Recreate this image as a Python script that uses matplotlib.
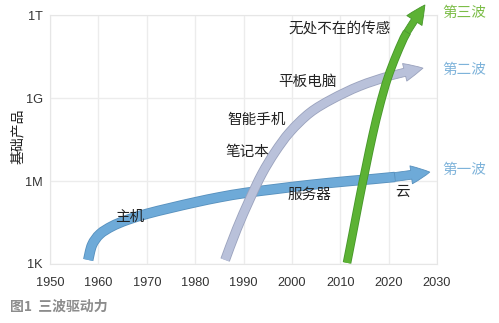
import numpy as np
import matplotlib
matplotlib.use('Agg')
import matplotlib.pyplot as plt
import matplotlib.patheffects as pe
from matplotlib.path import Path
from matplotlib.patches import PathPatch, FancyArrowPatch
from matplotlib.ticker import NullLocator

plt.rcParams['font.family'] = ['Noto Sans CJK SC', 'DejaVu Sans']

# wave 1: mainframe -> server -> cloud
wave1_year = [1957.9, 1958.7, 1960.3, 1962.8, 1965.9, 1970.0, 1974.8, 1980.0,
              1985.1, 1990.3, 1996.5, 2003.7, 2012.0, 2021.3, 2028.5]
wave1_units = [1.4e3, 4.9e3, 1.2e4, 2.3e4, 3.9e4, 6.5e4, 1.05e5, 1.7e5,
               2.6e5, 3.7e5, 5.1e5, 7.2e5, 1.0e6, 1.4e6, 2.1e6]

# wave 2: notebook -> smartphone -> tablet
wave2_year = [1986.2, 1988.6, 1991.3, 1993.8, 1996.5, 1999.6, 2003.7, 2008.3,
              2014.0, 2020.2, 2027.1]
wave2_units = [1.4e3, 1.8e4, 2.2e5, 1.8e6, 1.1e7, 5.9e7, 2.9e8, 9.1e8,
               2.7e9, 6.2e9, 1.2e10]

# wave 3: ubiquitous sensing
wave3_year = [2011.4, 2012.6, 2013.9, 2015.3, 2016.7, 2018.2, 2019.8, 2021.7,
              2023.8, 2027.5]
wave3_units = [1.1e3, 1.3e4, 2.0e5, 3.2e6, 4.6e7, 5.6e8, 5.2e9, 3.9e10,
               2.4e11, 2.3e12]

xticks = [1950, 1960, 1970, 1980, 1990, 2000, 2010, 2020, 2030]
yticks = [1e3, 1e6, 1e9, 1e12]
ylabels = ['1K', '1M', '1G', '1T']

fig = plt.figure(figsize=(4.99, 3.23), dpi=100)
ax = fig.add_axes([50/499, 1 - 264/323, 387/499, 249/323])
ax.set_yscale('log')
ax.set_xlim(1950, 2030)
ax.set_ylim(1e3, 1e12)
ax.set_xticks(xticks)
ax.set_yticks(yticks)
ax.set_yticklabels(ylabels)
ax.yaxis.set_minor_locator(NullLocator())
ax.tick_params(length=0, labelsize=9.2, labelcolor='#333333')
ax.tick_params(axis='x', pad=9)
ax.tick_params(axis='y', pad=5)
for lab in ax.get_xticklabels() + ax.get_yticklabels():
    lab.set_fontfamily('Liberation Sans')
ax.grid(True, color='#ececec', lw=1)
ax.set_axisbelow(True)
for s in ax.spines.values():
    s.set_color('#e6e6e6')


def bezier_points(x, y):
    # catmull-rom through the points, built in (year, log10) space
    p = np.column_stack([x, np.log10(y)])
    p = np.vstack([p[0], p, p[-1]])
    segs = []
    for i in range(1, len(p) - 2):
        c1 = p[i] + (p[i + 1] - p[i - 1]) / 6
        c2 = p[i + 1] - (p[i + 2] - p[i]) / 6
        segs.append((p[i], c1, c2, p[i + 1]))
    return segs


def to_units(v):
    v = np.array(v, dtype=float)
    v[:, 1] = 10 ** v[:, 1]
    return v


def wave(x, y, color, edge, lw, z):
    segs = bezier_points(x, y)
    verts = [segs[0][0]]
    codes = [Path.MOVETO]
    for s in segs[:-1]:
        verts += [s[1], s[2], s[3]]
        codes += [Path.CURVE4] * 3
    ax.add_patch(PathPatch(Path(to_units(verts), codes), fill=False, ec=color, lw=lw,
                           capstyle='butt', zorder=z, clip_on=False,
                           path_effects=[pe.Stroke(linewidth=lw + 1.2, foreground=edge), pe.Normal()]))
    # last segment carries the head, as a quadratic curve
    p0, c1, c2, p3 = segs[-1]
    q = (3 * (c1 + c2) - (p0 + p3)) / 4
    head = Path(to_units([p0, q, p3]), [Path.MOVETO, Path.CURVE3, Path.CURVE3])
    ax.add_patch(FancyArrowPatch(path=head,
                                 arrowstyle='simple,head_length=1.35,head_width=1.3,tail_width=%.2f' % (lw / 10),
                                 mutation_scale=10, fc=color, ec=edge, lw=0.6,
                                 zorder=z, clip_on=False))


wave(wave1_year, wave1_units, '#6eaad8', '#5790bd', 6.3, 3)
wave(wave2_year, wave2_units, '#b9c1da', '#9aa2bd', 5.9, 4)
wave(wave3_year, wave3_units, '#5cb234', '#46962a', 5.0, 5)

kw = dict(fontsize=10.5, color='#222222', va='center', ha='left', zorder=6)
ax.text(1963.4, 10**4.7, '主机', **kw)
ax.text(1999.2, 10**5.49, '服务器', **kw)
ax.text(2021.3, 10**5.6, '云', **kw)
ax.text(1986.2, 10**7.05, '笔记本', **kw)
ax.text(1986.6, 10**8.2, '智能手机', **kw)
ax.text(1997.1, 10**9.58, '平板电脑', **kw)
ax.text(1999.2, 10**11.46, '无处不在的传感', **kw)

ax.text(2031, 10**12.07, '第三波', fontsize=10.5, color='#7cbd48', va='center', ha='left')
ax.text(2031, 10**10.01, '第二波', fontsize=10.5, color='#7eb3da', va='center', ha='left')
ax.text(2031, 10**6.4, '第一波', fontsize=10.5, color='#7eb3da', va='center', ha='left')

fig.text(18/499, 1 - 136/323, '基础产品', rotation=90, fontsize=10, color='#222222',
         ha='center', va='center')
fig.text(10/499, 1 - 307/323, '图1  三波驱动力', fontsize=10, fontweight='bold',
         color='#8c8c8c', ha='left', va='center')

fig.savefig('out.png', dpi=100)
